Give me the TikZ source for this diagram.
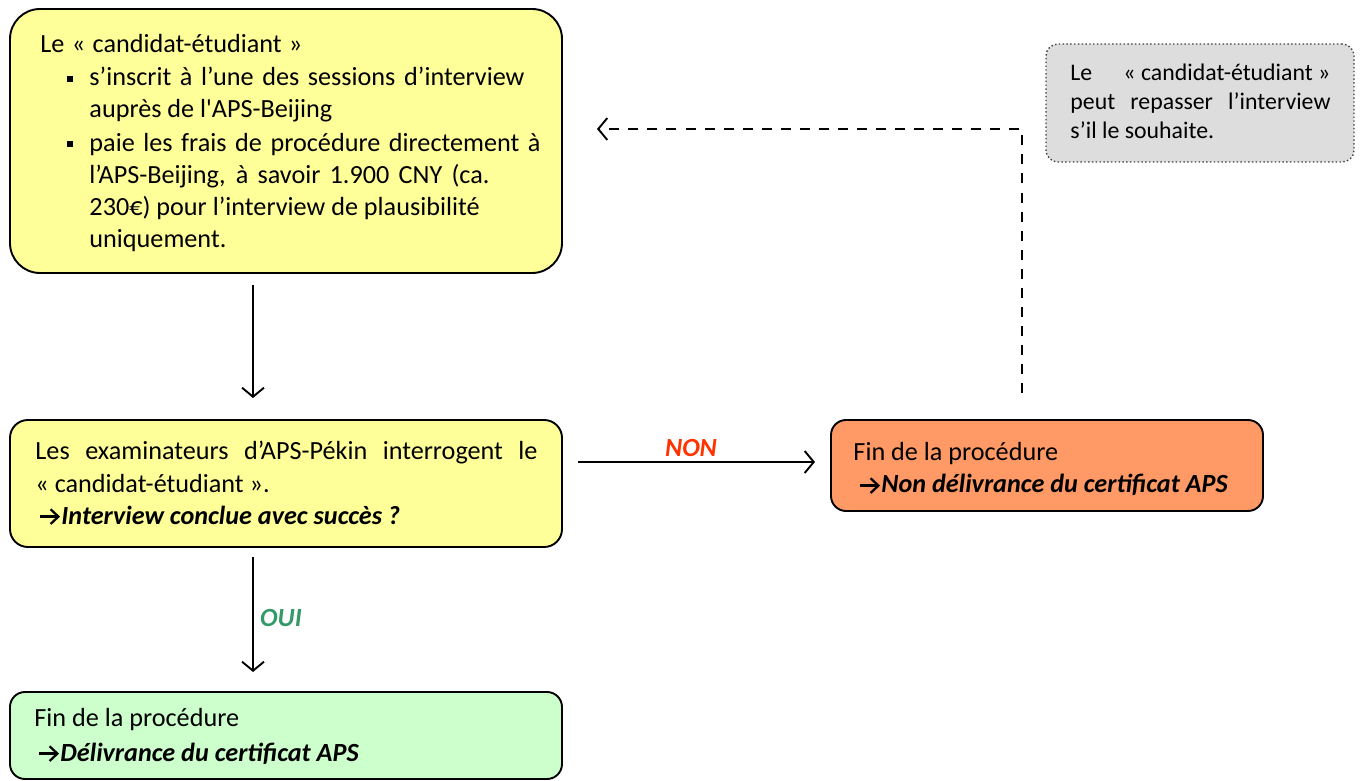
\documentclass[tikz,border=0pt]{standalone}
\usepackage{fontspec}
\setmainfont{Carlito}[Ligatures=TeXOff]
\usetikzlibrary{fit,arrows.meta}
\newlength\px \setlength\px{0.42pt}
\definecolor{boxyellow}{HTML}{FFFF99}
\definecolor{boxgreen}{HTML}{CCFFCC}
\definecolor{boxorange}{HTML}{FF9966}
\definecolor{boxgray}{HTML}{DDDDDD}
\definecolor{nonred}{HTML}{FF3300}
\definecolor{ouigreen}{HTML}{339966}
\newcommand{\rarr}{\tikz[baseline=0pt,x=1pt,y=1pt]{\draw[line width=0.95pt] (0,3.1)--(7.6,3.1); \draw[line width=0.95pt, line join=miter] (4.6,6.2)--(7.9,3.1)--(4.6,0);}\hspace{0.8pt}}
\tikzset{
  box/.style={draw=black, line width=0.8pt, rounded corners=#1, inner sep=0pt},
  note/.style={draw=black!75, densely dotted, line width=0.6pt, rounded corners=5pt, inner sep=0pt, fill=boxgray},
  txt/.style={anchor=base west, inner sep=0pt, align=left, font=\fontsize{11pt}{13.44pt}\selectfont},
  flow/.style={line width=0.8pt, -{Straight Barb[length=3.8pt, width=9.2pt, line width=0.8pt]}},
  back/.style={line width=0.8pt, dash pattern=on 4.2pt off 3.8pt, -{Straight Barb[length=3.8pt, width=9.2pt, line width=0.8pt]}},
  lbl/.style={inner sep=0pt, font=\fontsize{11pt}{13pt}\selectfont\bfseries\itshape},
}
\begin{document}
\begin{tikzpicture}[x=0.42pt, y=-0.42pt]
\useasboundingbox (0,0) rectangle (1362,781);

% boxes
\node[box=12.6pt, fill=boxyellow, fit={(10,9)(562,273)}] (inscr) {};
\node[box=7.5pt, fill=boxyellow, fit={(10,420)(562,547)}] (exam) {};
\node[box=6.3pt, fill=boxgreen, fit={(10,692)(562,779)}] (oui) {};
\node[box=6.3pt, fill=boxorange, fit={(831,420)(1263,511)}] (non) {};
\node[note, fit={(1046,44)(1354,162)}] (rep) {};

% top box text (anchors are at the baseline of the last line)
\node[txt] (inscrh) at (40,53) {\makebox[262\px][s]{Le « candidat-étudiant »}};
\node[txt] (inscr1) at (89,118) {\makebox[435\px][s]{s’inscrit à l’une des sessions d’interview}\\auprès de l'APS-Beijing};
\node[txt] (inscr2) at (89,248) {\makebox[451\px][s]{paie les frais de procédure directement à}\\\makebox[400\px][s]{l’APS-Beijing, à savoir 1.900 CNY (ca.}\\230€) pour l’interview de plausibilité\\uniquement.};
\fill (67,76) rectangle (73,82);
\fill (67,141) rectangle (73,147);

% middle box text
\node[txt] (examt) at (35,524) {\makebox[502\px][s]{Les examinateurs d’APS-Pékin interrogent le}\\« candidat-étudiant ».\\\hspace*{3\px}\rarr\textbf{\textit{Interview conclue avec succès ?}}};

% orange text
\node[txt] (nont) at (853,493) {Fin de la procédure\\\hspace*{5\px}\rarr\textbf{\textit{Non délivrance du certificat APS}}};

% green text
\node[txt] (ouit) at (34,761) {Fin de la procédure\\[1pt]\hspace*{3\px}\rarr\textbf{\textit{Délivrance du certificat APS}}};

% note text
\node[txt, font=\fontsize{10pt}{12.3pt}\selectfont] (rept) at (1070,139) {\makebox[260\px][s]{Le \hfill « candidat-étudiant »}\\\makebox[260\px][s]{peut repasser l’interview}\\s’il le souhaite.};

% connectors
\coordinate (a1s) at (253,285);
\coordinate (a1e) at (253,398);
\draw[flow] (a1s) -- (a1e);

\coordinate (a2s) at (253,557);
\coordinate (a2e) at (253,672);
\draw[flow] (a2s) -- (a2e);
\node[lbl, text=ouigreen] (ouil) at (281,618) {OUI};

\coordinate (a3s) at (578,462);
\coordinate (a3e) at (815,462);
\draw[flow] (a3s) -- (a3e);
\node[lbl, text=nonred] (nonl) at (691,448) {NON};

\coordinate (a4s) at (1022,393);
\coordinate (a4c) at (1022,129);
\coordinate (a4e) at (597,129);
\draw[back] (a4s) -- (a4c) -- (a4e);
\end{tikzpicture}
\end{document}
